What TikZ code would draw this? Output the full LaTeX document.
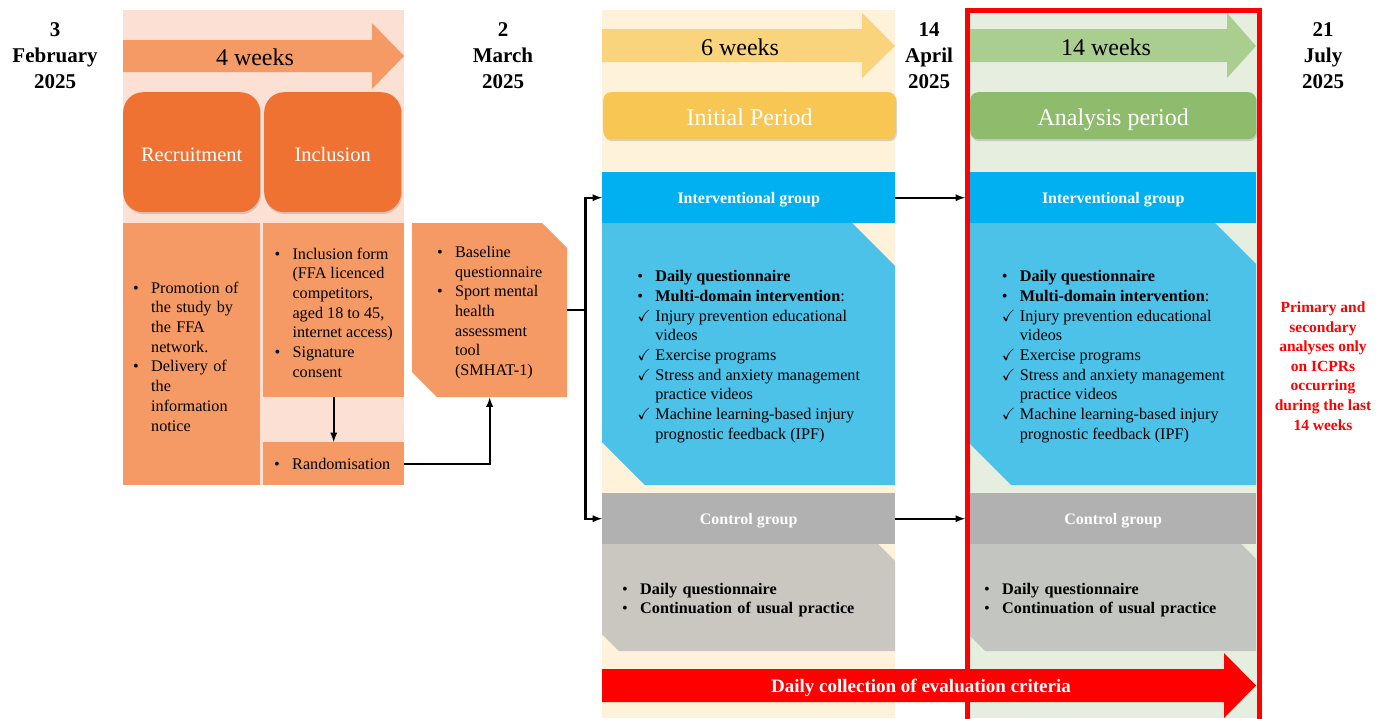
\documentclass[tikz,border=0pt]{standalone}
\usepackage{fontspec}
\usepackage{amssymb}
\setmainfont{Liberation Serif}
\usetikzlibrary{shadows}

\definecolor{bandorange}{HTML}{FBE0D3}
\definecolor{boxorange}{HTML}{F59A65}
\definecolor{phaseorange}{HTML}{F07233}
\definecolor{bandyellow}{HTML}{FEF2DB}
\definecolor{arrowyellow}{HTML}{F9D47C}
\definecolor{phaseyellow}{HTML}{F8C652}
\definecolor{bandgreen}{HTML}{E6EFDF}
\definecolor{arrowgreen}{HTML}{A9CE90}
\definecolor{phasegreen}{HTML}{8FBB6D}
\definecolor{headblue}{HTML}{00B0F0}
\definecolor{bodyblue}{HTML}{4CC2E9}
\definecolor{headgray}{HTML}{B1B1B1}
\definecolor{bodygray}{HTML}{C9C7C0}
\definecolor{bodygrayb}{HTML}{C3C6C0}
\definecolor{framered}{HTML}{FF0000}

\newlength\lind
\setlength\lind{18pt}
\newcommand\bl{\makebox[\lind][l]{\textbullet}}
\newcommand\ck{\makebox[\lind][l]{$\checkmark$}}
\newcommand\ind{\hspace*{\lind}}
\newcommand\fst{\rule{0pt}{16pt}}
\newcommand\listfont{\fontsize{16.2}{19.7}\selectfont}

\begin{document}
\begin{tikzpicture}[
    x=1pt, y=-1pt,
    datelbl/.style={font=\fontsize{21}{26}\selectfont\bfseries, align=center},
    weeks/.style={font=\fontsize{24}{28}\selectfont},
    phase/.style={anchor=north west, text=white, text depth=0pt, drop shadow={opacity=0.3, shadow xshift=1pt, shadow yshift=-2pt}},
    listbox/.style={anchor=north west, align=left, font=\listfont, inner xsep=0pt, inner ysep=0pt},
    grphead/.style={anchor=north west, text=white, font=\fontsize{16}{19}\selectfont\bfseries, text height=12pt, text depth=0pt, minimum height=51pt},
    chamf/.style 2 args={path picture={\fill[#1] (path picture bounding box.north west) -- ([xshift=-#2]path picture bounding box.north east) -- ([yshift=-#2]path picture bounding box.north east) -- (path picture bounding box.south east) -- ([xshift=#2]path picture bounding box.south west) -- ([yshift=#2]path picture bounding box.south west) -- cycle;}},
    line/.style={draw, -latex, line width=2.2pt}
]
    \useasboundingbox (0,0) rectangle (1387,718);

    % background bands
    \fill[bandorange] (123,10) rectangle (404,485);
    \fill[bandyellow] (602,10) rectangle (895,718);
    \fill[bandgreen] (967,10) rectangle (1258,718);

    % dates
    \node[datelbl] (d1) at (55,56) {3\\February\\2025};
    \node[datelbl] (d2) at (503,56) {2\\March\\2025};
    \node[datelbl] (d3) at (929,56) {14\\April\\2025};
    \node[datelbl] (d4) at (1323,56) {21\\July\\2025};

    % durations
    \fill[boxorange] (123,40) -- (372,40) -- (372,23) -- (404,56) -- (372,89) -- (372,72) -- (123,72) -- cycle;
    \node[weeks] (w4) at (255,57) {4 weeks};
    \fill[arrowyellow] (602,29) -- (862,29) -- (862,13) -- (895,46) -- (862,78) -- (862,62) -- (602,62) -- cycle;
    \node[weeks] (w6) at (740,47) {6 weeks};
    \fill[arrowgreen] (970,29) -- (1227,29) -- (1227,13) -- (1256,46) -- (1227,78) -- (1227,62) -- (970,62) -- cycle;
    \node[weeks] (w14) at (1106,47) {14 weeks};

    % phases
    \node[phase, fill=phaseorange, rounded corners=20pt, minimum width=137pt, minimum height=120pt, text height=18pt, font=\fontsize{20.5}{24}\selectfont] (recr) at (123,92) {Recruitment};
    \node[phase, fill=phaseorange, rounded corners=20pt, minimum width=137pt, minimum height=120pt, text height=18pt, font=\fontsize{20.5}{24}\selectfont] (incl) at (264,92) {Inclusion};
    \node[phase, fill=phaseyellow, rounded corners=8pt, minimum width=293pt, minimum height=47pt, text height=20pt, font=\fontsize{24}{28}\selectfont] (initial) at (603,92) {Initial Period};
    \node[phase, fill=phasegreen, rounded corners=8pt, minimum width=286pt, minimum height=47pt, text height=20pt, font=\fontsize{24}{28}\selectfont] (analysis) at (970,92) {Analysis period};

    % recruitment and inclusion
    \node[listbox, fill=boxorange, minimum width=137pt, minimum height=262pt, text width=117pt, inner xsep=10pt] (recrtxt) at (123,223) {\fst\bl Promotion of\\\ind the study by\\\ind the FFA\\\ind network.\\\bl Delivery of\\\ind the\\\ind information\\\ind notice};
    \node[listbox, fill=boxorange, minimum width=141pt, minimum height=174pt] (incltxt) at (263,223) {\fst\bl Inclusion form\\\ind (FFA licenced\\\ind competitors,\\\ind aged 18 to 45,\\\ind internet access)\\\bl Signature\\\ind consent};
    \node[listbox, fill=boxorange, minimum width=141pt, minimum height=43pt, text width=119pt, inner xsep=11pt] (rand) at (263,442) {\bl Randomisation};
    \node[listbox, chamf={boxorange}{25pt}, minimum width=155pt, minimum height=174pt] (base) at (412,223) {\fst\bl Baseline\\\ind questionnaire\\\bl Sport mental\\\ind health\\\ind assessment\\\ind tool\\\ind (SMHAT-1)};

    % initial period groups
    \node[grphead, fill=headblue, minimum width=293pt] (ihead1) at (602,172) {Interventional group};
    \node[listbox, chamf={bodyblue}{43pt}, minimum width=293pt, minimum height=262pt] (ibody1) at (602,223) {\fst\bl\textbf{Daily questionnaire}\\\bl\textbf{Multi-domain intervention}:\\\ck Injury prevention educational\\\ind videos\\\ck Exercise programs\\\ck Stress and anxiety management\\\ind practice videos\\\ck Machine learning-based injury\\\ind prognostic feedback (IPF)};
    \node[grphead, fill=headgray, minimum width=293pt] (chead1) at (602,493) {Control group};
    \node[listbox, chamf={bodygray}{17pt}, minimum width=293pt, minimum height=107pt, text width=253pt, inner xsep=20pt] (cbody1) at (602,544) {\fst\bl\textbf{Daily questionnaire}\\\bl\textbf{Continuation of usual practice}};

    % analysis period groups
    \node[grphead, fill=headblue, minimum width=286pt] (ihead2) at (970,172) {Interventional group};
    \node[listbox, chamf={bodyblue}{41pt}, minimum width=286pt, minimum height=262pt] (ibody2) at (970,223) {\fst\bl\textbf{Daily questionnaire}\\\bl\textbf{Multi-domain intervention}:\\\ck Injury prevention educational\\\ind videos\\\ck Exercise programs\\\ck Stress and anxiety management\\\ind practice videos\\\ck Machine learning-based injury\\\ind prognostic feedback (IPF)};
    \node[grphead, fill=headgray, minimum width=286pt] (chead2) at (970,493) {Control group};
    \node[listbox, chamf={bodygrayb}{15pt}, minimum width=286pt, minimum height=107pt, text width=258pt, inner xsep=14pt] (cbody2) at (970,544) {\fst\bl\textbf{Daily questionnaire}\\\bl\textbf{Continuation of usual practice}};

    % connectors
    \draw[line] (incltxt.south) -- (rand.north);
    \draw[line] (rand.east) -| (base.south);
    \coordinate (split) at ([xshift=18pt]base.east);
    \draw[line width=2.2pt] (base.east) -- (split);
    \draw[line] (split) |- (ihead1.west);
    \draw[line] (split) |- (chead1.west);
    \draw[line, shorten >=5pt] (ihead1.east) -- (ihead2.west);
    \draw[line, shorten >=5pt] (chead1.east) -- (chead2.west);

    % analysis window
    \draw[framered, line width=5pt] (967.5,725) -- (967.5,10.5) -- (1259,10.5) -- (1259,725);
    \node[font=\fontsize{15.5}{19.6}\selectfont\bfseries, text=framered, align=center] (note) at (1323,366) {Primary and\\secondary\\analyses only\\on ICPRs\\occurring\\during the last\\14 weeks};

    % data collection
    \fill[framered] (602,669) -- (1224,669) -- (1224,653) -- (1256,685.5) -- (1224,718) -- (1224,702) -- (602,702) -- cycle;
    \node[font=\fontsize{19}{22}\selectfont\bfseries, text=white, text depth=0pt] (daily) at (921,686) {Daily collection of evaluation criteria};
\end{tikzpicture}
\end{document}
